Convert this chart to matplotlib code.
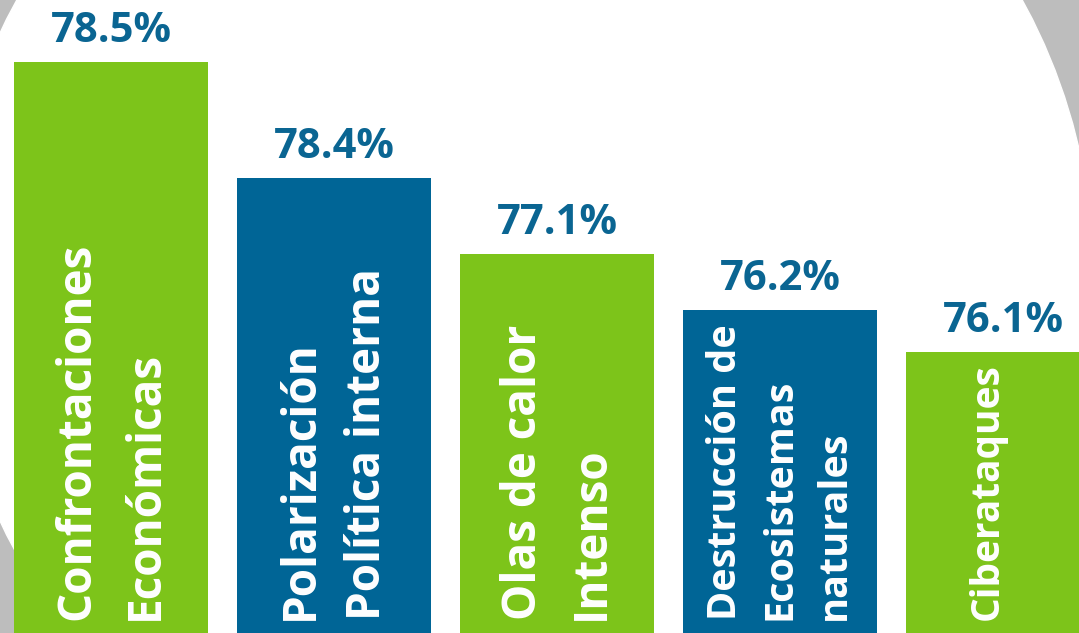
import matplotlib
matplotlib.use("Agg")
import matplotlib.pyplot as plt
from matplotlib.patches import Circle

# datos
riesgos = ["Confrontaciones\nEconómicas", "Polarización\nPolítica interna", "Olas de calor\nIntenso",
           "Destrucción de\nEcosistemas\nnaturales", "Ciberataques"]
valores = [78.5, 78.4, 77.1, 76.2, 76.1]
alto_barra = [571, 455, 379, 323, 281]  # altura visual de cada barra
colores = ["#7DC41A", "#006596", "#7DC41A", "#006596", "#7DC41A"]

azul_txt = "#0A6592"
gris = "#BDBDBD"
# tamaño de letra del texto dentro de cada barra
tam_texto = [33, 33, 33, 28.5, 28]

fig = plt.figure(figsize=(10.79, 6.33), dpi=100)
fig.patch.set_facecolor(gris)

# fondo: circulo blanco
bg = fig.add_axes([0, 0, 1, 1])
bg.set_xlim(0, 1079)
bg.set_ylim(0, 633)
bg.axis("off")
bg.add_patch(Circle((519.5, 356), 574, color="white", zorder=0))

ax = fig.add_axes([0, 0, 1, 1])
ax.patch.set_alpha(0)
x = list(range(len(riesgos)))
ax.bar(x, alto_barra, width=0.874, color=colores, zorder=2)
ax.set_xlim(-0.4978, 4.341)
ax.set_ylim(0, 633)
ax.axis("off")

fuente = ["Open Sans", "DejaVu Sans"]
for i, (v, h, t) in enumerate(zip(valores, alto_barra, riesgos)):
    ax.text(i, h + 20, f"{v}%", ha="center", va="baseline", fontsize=30, fontweight="bold",
            color=azul_txt, family=fuente)
    ls = 1.5 if t.count("\n") == 2 else 1.58
    xt = i - 0.07 if i == 4 else i
    ax.text(xt, 13, t, rotation=90, ha="center", va="bottom", multialignment="left",
            fontsize=tam_texto[i], fontweight="bold", color="white", family=fuente,
            linespacing=ls, zorder=3)

fig.savefig("out.png", dpi=100, facecolor=gris)
